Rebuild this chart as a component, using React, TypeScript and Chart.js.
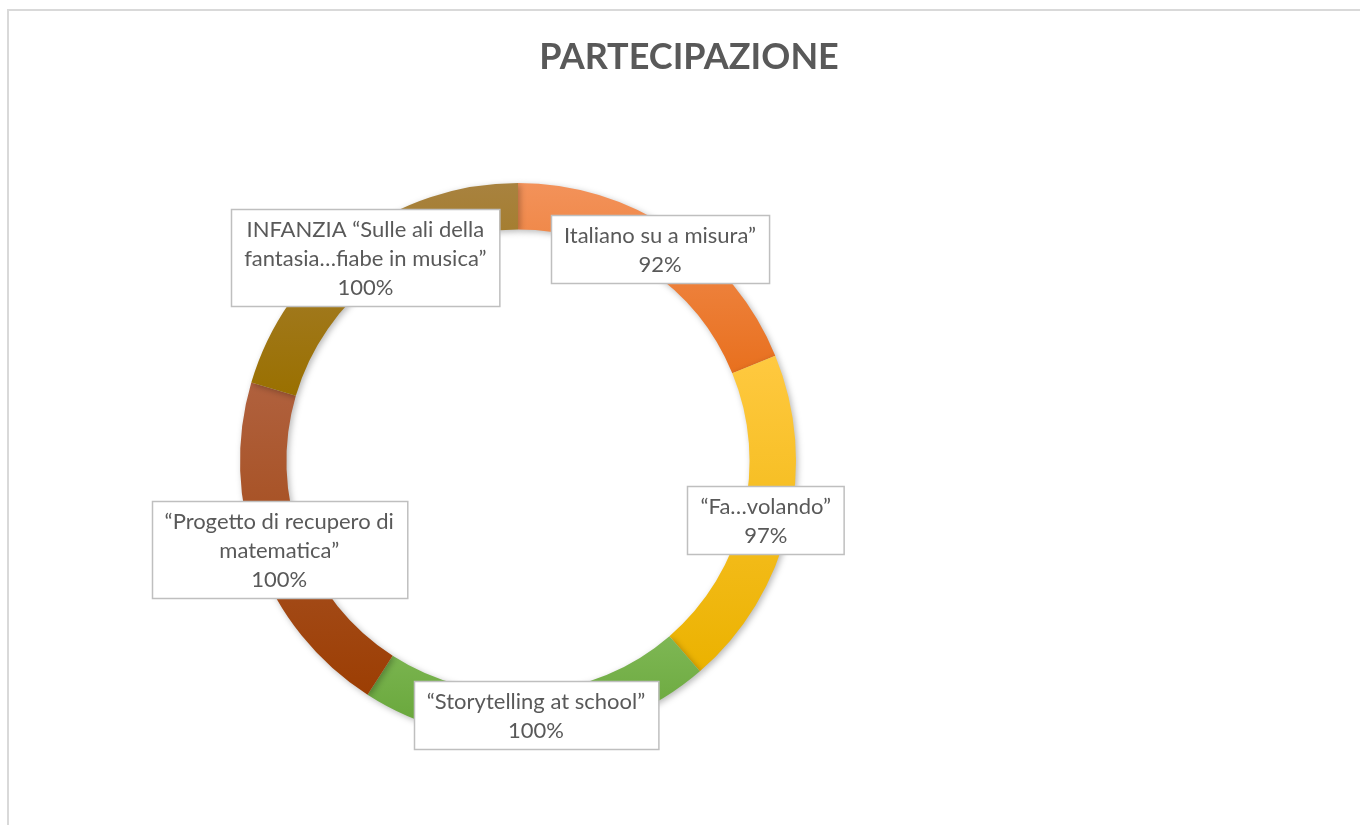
import React, { useEffect, useRef } from "react";
import { Chart, registerables } from "chart.js";

Chart.register(...registerables);

const chartTitle = "PARTECIPAZIONE";
const categories = [
  "Italiano su a misura”",
  "“Fa…volando”",
  "“Storytelling at school”",
  "“Progetto di recupero di matematica”",
  "INFANZIA “Sulle ali della fantasia…fiabe in musica”",
];
const labelLines = [
  ["Italiano su a misura”"],
  ["“Fa…volando”"],
  ["“Storytelling at school”"],
  ["“Progetto di recupero di", "matematica”"],
  ["INFANZIA “Sulle ali della", "fantasia…fiabe in musica”"],
];
const values = [92, 97, 100, 100, 100];
const topColors = ["#F3925A", "#FFC940", "#7EB754", "#B0613E", "#A8823F"];
const bottomColors = ["#E8701E", "#EBB200", "#66A538", "#9C3E03", "#9A7000"];

const FONT = "Lato, 'Open Sans', sans-serif";

function sliceGradient(ctx: any) {
  const chart = ctx.chart;
  const i = ctx.dataIndex;
  const area = chart.chartArea;
  if (!area || i === undefined) return bottomColors[i ?? 0];
  const cx = (area.left + area.right) / 2;
  const cy = (area.top + area.bottom) / 2;
  const ro = Math.min(area.right - area.left, area.bottom - area.top) / 2;
  const ri = ro * 0.833;
  const total = values.reduce((a, b) => a + b, 0);
  let cum = 0;
  for (let k = 0; k < i; k++) cum += values[k];
  const a0 = -Math.PI / 2 + (cum / total) * Math.PI * 2;
  const a1 = -Math.PI / 2 + ((cum + values[i]) / total) * Math.PI * 2;
  let ymin = Infinity;
  let ymax = -Infinity;
  for (let s = 0; s <= 60; s++) {
    const a = a0 + ((a1 - a0) * s) / 60;
    for (const r of [ro, ri]) {
      const y = cy + r * Math.sin(a);
      ymin = Math.min(ymin, y);
      ymax = Math.max(ymax, y);
    }
  }
  const g = chart.ctx.createLinearGradient(0, ymin, 0, ymax);
  g.addColorStop(0, topColors[i]);
  g.addColorStop(1, bottomColors[i]);
  return g;
}

const shadowPlugin = {
  id: "ringShadow",
  beforeDatasetsDraw(chart: any) {
    const c = chart.ctx;
    c.save();
    c.shadowColor = "rgba(0,0,0,0.28)";
    c.shadowBlur = 6;
    c.shadowOffsetX = 2;
    c.shadowOffsetY = 2;
  },
  afterDatasetsDraw(chart: any) {
    chart.ctx.restore();
  },
};

const titlePlugin = {
  id: "pageTitle",
  afterDraw(chart: any) {
    const c = chart.ctx;
    c.save();
    c.font = `bold 36px ${FONT}`;
    c.fillStyle = "#595959";
    c.textAlign = "center";
    c.textBaseline = "middle";
    c.fillText(chartTitle, 689, 57);
    c.restore();
  },
};

const labelPlugin = {
  id: "boxLabels",
  afterDatasetsDraw(chart: any) {
    const c = chart.ctx;
    const meta = chart.getDatasetMeta(0);
    const lineH = 29;
    const padX = 13;
    const padY = 5;
    c.save();
    c.font = `22px ${FONT}`;
    c.textAlign = "center";
    c.textBaseline = "middle";
    meta.data.forEach((arc: any, i: number) => {
      const pos = arc.tooltipPosition();
      const lines = [...labelLines[i], `${values[i]}%`];
      const w = Math.max(...lines.map((l) => c.measureText(l).width)) + padX * 2;
      const h = lines.length * lineH + padY * 2;
      const x0 = Math.round(pos.x - w / 2);
      const y0 = Math.round(pos.y - h / 2);
      c.fillStyle = "#ffffff";
      c.fillRect(x0, y0, w, h);
      c.strokeStyle = "#bfbfbf";
      c.lineWidth = 1.5;
      c.strokeRect(x0 + 0.5, y0 + 0.5, w, h);
      c.fillStyle = "#595959";
      lines.forEach((l, k) => {
        c.fillText(l, pos.x, y0 + padY + lineH * k + lineH / 2 + 1);
      });
    });
    c.restore();
  },
};

export default function App() {
  const ref = useRef<HTMLCanvasElement | null>(null);
  useEffect(() => {
    document.documentElement.style.overflow = "hidden";
    document.body.style.overflow = "hidden";
    const chart = new Chart(ref.current as HTMLCanvasElement, {
      type: "doughnut",
      data: {
        labels: categories,
        datasets: [
          {
            data: values,
            backgroundColor: sliceGradient as any,
            borderWidth: 0,
          },
        ],
      },
      options: {
        responsive: false,
        animation: false,
        cutout: "83.3%",
        layout: { padding: { left: 240, right: 564, top: 183, bottom: 86 } },
        plugins: {
          legend: { display: false },
          tooltip: { enabled: false },
          title: { display: false },
        },
      },
      plugins: [shadowPlugin, labelPlugin, titlePlugin],
    });
    return () => chart.destroy();
  }, []);
  return (
    <div style={{ position: "fixed", left: 0, top: 0, width: 1360, height: 825, background: "#fff" }}>
      <div
        style={{
          position: "absolute",
          left: 7,
          top: 9,
          width: 1400,
          height: 900,
          border: "2px solid #d9d9d9",
        }}
      />
      <canvas
        ref={ref}
        width={1360}
        height={825}
        style={{ position: "absolute", left: 0, top: 0, width: 1360, height: 825 }}
      />
    </div>
  );
}
